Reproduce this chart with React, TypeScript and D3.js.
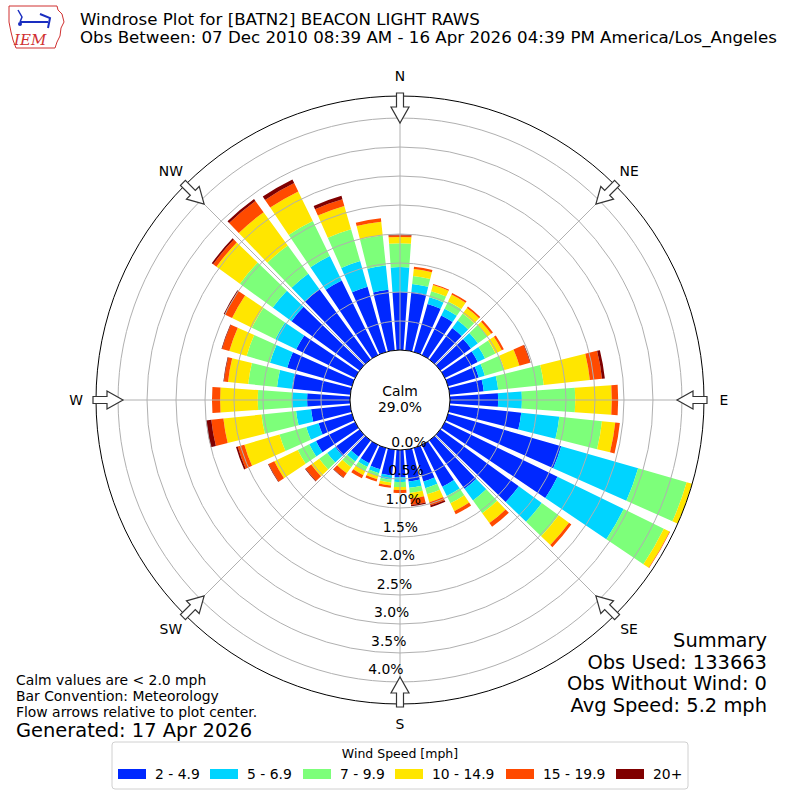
import React from "react";
import * as d3 from "d3";

// wind direction (from), degrees, 10 degree bins
const directions = [0, 10, 20, 30, 40, 50, 60, 70, 80, 90, 100, 110, 120, 130, 140, 150, 160, 170,
  180, 190, 200, 210, 220, 230, 240, 250, 260, 270, 280, 290, 300, 310, 320, 330, 340, 350];

const speedBins = ["2 - 4.9", "5 - 6.9", "7 - 9.9", "10 - 14.9", "15 - 19.9", "20+"];
const binColors = ["#0028ff", "#00d4ff", "#7dff7a", "#ffe600", "#ff4a00", "#800000"];

// frequency (%) per direction for each speed bin
const pct2to5 = [1.0, 1.01, 0.86, 0.76, 0.67, 0.65, 0.63, 0.55, 0.59, 0.83, 1.24, 2.03, 2.16, 1.67, 1.03, 0.8, 0.6, 0.55,
  0.47, 0.45, 0.38, 0.35, 0.35, 0.52, 0.75, 0.6, 0.68, 0.74, 1.01, 1.16, 1.13, 1.45, 1.5, 1.43, 1.17, 1.05];
const pct5to7 = [0.43, 0.14, 0.12, 0.13, 0.16, 0.15, 0.14, 0.11, 0.25, 0.41, 0.66, 1.38, 1.27, 0.49, 0.25, 0.18, 0.12, 0.11,
  0.08, 0.07, 0.07, 0.07, 0.1, 0.17, 0.13, 0.22, 0.26, 0.26, 0.26, 0.31, 0.4, 0.4, 0.33, 0.47, 0.46, 0.42];
const pct7to10 = [0.41, 0.14, 0.11, 0.14, 0.15, 0.2, 0.2, 0.35, 0.79, 0.92, 0.74, 0.87, 0.77, 0.36, 0.27, 0.14, 0.11, 0.09,
  0.09, 0.05, 0.05, 0.08, 0.12, 0.17, 0.22, 0.48, 0.6, 0.59, 0.5, 0.42, 0.45, 0.7, 0.6, 0.67, 0.57, 0.52];
const pct10to15 = [0.11, 0.12, 0.11, 0.13, 0.12, 0.08, 0.12, 0.27, 0.8, 0.63, 0.23, 0.1, 0.11, 0.22, 0.21, 0.15, 0.14, 0.1,
  0.05, 0.05, 0.06, 0.08, 0.13, 0.17, 0.45, 0.63, 0.66, 0.65, 0.35, 0.31, 0.38, 0.5, 0.71, 0.57, 0.42, 0.24];
const pct15to20 = [0.03, 0.04, 0.02, 0.03, 0.03, 0.04, 0.04, 0.19, 0.21, 0.11, 0.08, 0.01, 0.01, 0.05, 0.08, 0.06, 0.06, 0.11,
  0.05, 0.04, 0.04, 0.06, 0.09, 0.12, 0.11, 0.12, 0.21, 0.14, 0.07, 0.13, 0.14, 0.07, 0.24, 0.16, 0.12, 0.06];
const pct20plus = [0.01, 0, 0, 0, 0, 0, 0, 0.01, 0.05, 0, 0, 0, 0, 0, 0, 0, 0.03, 0.02,
  0, 0, 0, 0, 0.01, 0.01, 0.01, 0.03, 0.09, 0, 0.01, 0.01, 0.02, 0.03, 0.04, 0.07, 0.06, 0];

const calmPct = 29.0;
const ringTicks = [0, 0.5, 1.0, 1.5, 2.0, 2.5, 3.0, 3.5, 4.0];
const compassLabels = ["N", "NE", "E", "SE", "S", "SW", "W", "NW"];
const compassAngles = [0, 45, 90, 135, 180, 225, 270, 315];

const titleLines = [
  "Windrose Plot for [BATN2] BEACON LIGHT RAWS",
  "Obs Between: 07 Dec 2010 08:39 AM - 16 Apr 2026 04:39 PM America/Los_Angeles",
];
const summaryLines = ["Summary", "Obs Used: 133663", "Obs Without Wind: 0", "Avg Speed: 5.2 mph"];
const noteLines = ["Calm values are < 2.0 mph", "Bar Convention: Meteorology", "Flow arrows relative to plot center."];
const generatedText = "Generated: 17 Apr 2026";

const font = "DejaVu Sans, sans-serif";
const legendX = [118, 210, 303, 395, 506, 616];

export default function App() {
  const cx = 400, cy = 400;
  const rInner = 50, rOuter = 304;
  const r = d3.scaleLinear().domain([0, 4.38]).range([rInner, rOuter]);
  const deg = (a: number) => (a * Math.PI) / 180;
  const barHalf = 4;

  const keys = ["b0", "b1", "b2", "b3", "b4", "b5"];
  const rows = directions.map((d, i) => ({
    dir: d,
    b0: pct2to5[i], b1: pct5to7[i], b2: pct7to10[i],
    b3: pct10to15[i], b4: pct15to20[i], b5: pct20plus[i],
  }));
  const series = d3.stack<any>().keys(keys)(rows);
  const arc = d3.arc<any>();

  const arrowPath = "M-3.5,-307 L3.5,-307 L3.5,-293 L9,-293 L0,-277 L-9,-293 L-3.5,-293 Z";

  return (
    <svg width={800} height={800} style={{ position: "absolute", left: 0, top: 0, background: "#fff" }}
      fontFamily={font}>
      <defs>
        <clipPath id="rose">
          <circle cx={0} cy={0} r={rOuter} />
        </clipPath>
      </defs>

      {/* logo */}
      <g>
        <path d="M9,6 L57,6 L58,10 L62,14 L64,22 L61,28 L60,36 L57,42 L55,48 L16,48 L13,40 L11,32 L9,22 Z"
          fill="none" stroke="#d03030" strokeWidth={1} />
        <line x1={20} y1={22} x2={48} y2={22} stroke="#1a2ec0" strokeWidth={2} />
        <path d="M18,10 L22,17 L20,22" fill="none" stroke="#1a2ec0" strokeWidth={1.5} />
        <path d="M40,14 L50,18 L48,28" fill="none" stroke="#1a2ec0" strokeWidth={2} />
        <circle cx={20} cy={24} r={2} fill="#1a2ec0" />
        <text x={14} y={45} fontFamily="DejaVu Serif, serif" fontStyle="italic" fontSize={15} fill="#d03030">IEM</text>
      </g>

      {titleLines.map((t, i) => (
        <text key={t} x={80} y={25 + i * 18} fontSize={16.67}>{t}</text>
      ))}

      {/* bars */}
      <g transform={`translate(${cx},${cy})`} clipPath="url(#rose)">
        {series.map((s, k) => (
          <g key={s.key} fill={binColors[k]}>
            {s.map((p: any) =>
              p[1] - p[0] > 0 ? (
                <path key={p.data.dir}
                  d={arc({
                    innerRadius: r(p[0]), outerRadius: Math.min(r(p[1]), rOuter),
                    startAngle: deg(p.data.dir - barHalf), endAngle: deg(p.data.dir + barHalf),
                  }) as string} />
              ) : null
            )}
          </g>
        ))}
      </g>

      {/* grid */}
      <g transform={`translate(${cx},${cy})`} fill="none" stroke="#b0b0b0" strokeWidth={1}>
        {ringTicks.slice(1).map((t) => <circle key={t} r={r(t)} />)}
        {compassAngles.map((a) => (
          <line key={a} x1={0} y1={0} x2={rOuter * Math.sin(deg(a))} y2={-rOuter * Math.cos(deg(a))} />
        ))}
      </g>

      <circle cx={cx} cy={cy} r={rOuter} fill="none" stroke="#000" strokeWidth={1} />
      <circle cx={cx} cy={cy} r={rInner} fill="#fff" stroke="#000" strokeWidth={1} />
      <text x={cx} y={391} textAnchor="middle" dominantBaseline="central" fontSize={13.9}>Calm</text>
      <text x={cx} y={407} textAnchor="middle" dominantBaseline="central" fontSize={13.9}>{calmPct.toFixed(1)}%</text>

      {/* flow arrows */}
      <g transform={`translate(${cx},${cy})`}>
        {compassAngles.map((a) => (
          <path key={a} d={arrowPath} transform={`rotate(${a})`} fill="#fff" stroke="#333" strokeWidth={1.2} />
        ))}
      </g>

      {/* compass labels */}
      {compassLabels.map((lab, i) => (
        <text key={lab} x={cx + 324 * Math.sin(deg(compassAngles[i]))} y={cy - 324 * Math.cos(deg(compassAngles[i]))}
          textAnchor="middle" dominantBaseline="central" fontSize={13.9}>{lab}</text>
      ))}

      {/* radial labels */}
      {ringTicks.map((t) => {
        const rr = r(t);
        return (
          <text key={t} x={414 - 0.1 * rr} y={393 + 0.979 * rr} textAnchor="middle" dominantBaseline="central"
            fontSize={13.9}>{t.toFixed(1)}%</text>
        );
      })}

      {/* notes */}
      {noteLines.map((t, i) => (
        <text key={t} x={16} y={685 + i * 16} fontSize={13.9}>{t}</text>
      ))}
      <text x={16} y={737} fontSize={19.44}>{generatedText}</text>

      {summaryLines.map((t, i) => (
        <text key={t} x={767} y={647 + i * 21.5} textAnchor="end" fontSize={19.44}>{t}</text>
      ))}

      {/* legend */}
      <g>
        <rect x={112} y={742} width={576} height={47} rx={3} fill="#fff" stroke="#d0d0d0" />
        <text x={400} y={753} textAnchor="middle" dominantBaseline="central" fontSize={12.5}>Wind Speed [mph]</text>
        {speedBins.map((b, i) => (
          <g key={b}>
            <rect x={legendX[i]} y={769} width={28} height={10} fill={binColors[i]} />
            <text x={legendX[i] + 37} y={774} dominantBaseline="central" fontSize={13.9}>{b}</text>
          </g>
        ))}
      </g>
    </svg>
  );
}
